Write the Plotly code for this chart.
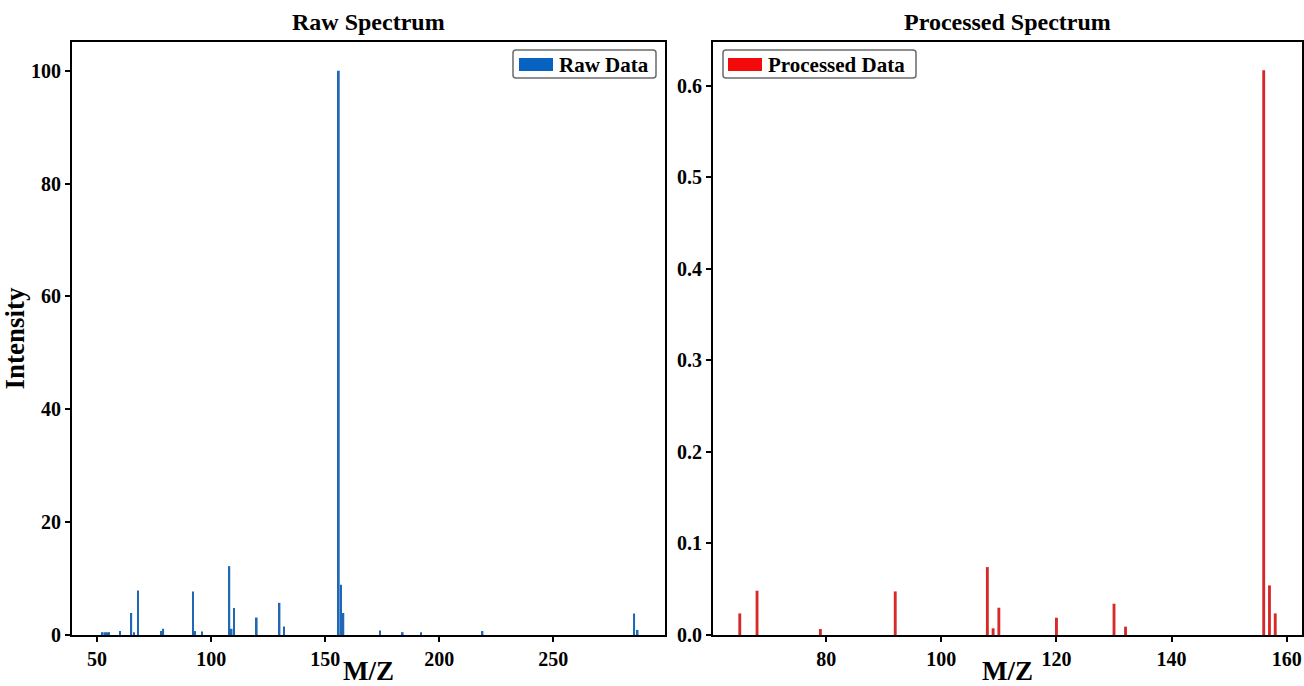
import plotly.graph_objects as go
from plotly.subplots import make_subplots

# ---- data ----
raw_mz = [52.5, 53.5, 54.4, 55.3, 60, 65, 66.2, 68, 78, 79, 92, 93, 96,
          108, 109, 110, 120, 130, 132, 156, 157, 158, 174, 184, 192, 219, 285.5, 287]
raw_int = [0.5, 0.5, 0.5, 0.5, 0.7, 3.9, 0.5, 7.9, 0.7, 1.1, 7.7, 0.7, 0.6,
           12.2, 1.1, 4.8, 3.1, 5.7, 1.5, 100, 8.9, 3.9, 0.8, 0.5, 0.5, 0.7, 3.8, 0.9]
proc_mz = [65, 68, 79, 92, 108, 109, 110, 120, 130, 132, 156, 157, 158]
proc_int = [0.0236, 0.0484, 0.0065, 0.0476, 0.0742, 0.0073, 0.0298, 0.0189,
            0.0342, 0.0091, 0.617, 0.0542, 0.0236]
raw_xticks = [50, 100, 150, 200, 250]
raw_yticks = [0, 20, 40, 60, 80, 100]
proc_xticks = [80, 100, 120, 140, 160]
proc_yticks = [0.0, 0.1, 0.2, 0.3, 0.4, 0.5, 0.6]

W, H = 1304, 686
# plot area in pixel coordinates (from reference)
L, R, T, B = 72, 1302, 42, 635
ML, MR, MT, MB = L, W - R, T, H - B
PW = R - L
PH = B - T

def px(x):
    return (x - L) / PW

def py(y):
    return (B - y) / PH

FONT = "Liberation Serif"
BLUE_BAR, BLUE_LEG = "#1f68b5", "#0862c2"
RED_BAR, RED_LEG = "#d62a2a", "#f40a0a"

fig = make_subplots(rows=1, cols=2)
fig.add_trace(go.Bar(x=raw_mz, y=raw_int, width=0.75, marker=dict(color=BLUE_BAR, line=dict(width=0)),
                     name="Raw Data", showlegend=False), row=1, col=1)
fig.add_trace(go.Bar(x=proc_mz, y=proc_int, width=0.5, marker=dict(color=RED_BAR, line=dict(width=0)),
                     name="Processed Data", showlegend=False), row=1, col=2)

axcommon = dict(showline=True, linecolor="black", linewidth=2, mirror=True,
                ticks="outside", ticklen=5, tickwidth=2, tickcolor="black",
                showgrid=False, zeroline=False, automargin=False,
                tickfont=dict(family=FONT, size=20, color="black", weight="bold"))
labfont = dict(family=FONT, size=27, color="black")

fig.update_xaxes(domain=[0, px(665)], range=[39, 299], tickvals=raw_xticks,
                 title=dict(text="<b>M/Z</b>", font=labfont, standoff=0),
                 **axcommon, row=1, col=1)
fig.update_xaxes(domain=[px(713), 1], range=[60.35, 162.65], tickvals=proc_xticks,
                 title=dict(text="<b>M/Z</b>", font=labfont, standoff=0),
                 **axcommon, row=1, col=2)
fig.update_yaxes(range=[0, 105.1], tickvals=raw_yticks,
                 title=dict(text="<b>Intensity</b>", font=labfont, standoff=4),
                 **axcommon, row=1, col=1)
fig.update_yaxes(range=[0, 0.6479], tickvals=proc_yticks, tickformat=".1f",
                 **axcommon, row=1, col=2)

# titles
for text, cx in [("Raw Spectrum", (72 + 665) / 2), ("Processed Spectrum", (713 + 1302) / 2)]:
    fig.add_annotation(text=f"<b>{text}</b>", x=px(cx), y=py(22), xref="paper", yref="paper",
                       showarrow=False, xanchor="center", yanchor="middle",
                       font=dict(family=FONT, size=24, color="black"))

# legends (box, patch, label)
def rounded_box(x0, y0, x1, y1, r=3):
    X0, X1 = px(x0), px(x1)
    Y0, Y1 = py(y1), py(y0)
    rx, ry = r / PW, r / PH
    return (f"M {X0+rx},{Y0} L {X1-rx},{Y0} Q {X1},{Y0} {X1},{Y0+ry} "
            f"L {X1},{Y1-ry} Q {X1},{Y1} {X1-rx},{Y1} L {X0+rx},{Y1} "
            f"Q {X0},{Y1} {X0},{Y1-ry} L {X0},{Y0+ry} Q {X0},{Y0} {X0+rx},{Y0} Z")

legends = [
    dict(box=(513, 50, 656, 78), patch=(519, 58, 553, 71), tx=557, label="Raw Data", color=BLUE_LEG),
    dict(box=(723, 50, 916, 78), patch=(728, 58, 762, 71), tx=766, label="Processed Data", color=RED_LEG),
]
for lg in legends:
    fig.add_shape(type="path", path=rounded_box(*lg["box"]), xref="paper", yref="paper",
                  line=dict(color="#6a6a6a", width=1.5), fillcolor="rgba(255,255,255,0.85)", layer="above")
    x0, y0, x1, y1 = lg["patch"]
    fig.add_shape(type="rect", x0=px(x0), x1=px(x1), y0=py(y1), y1=py(y0), xref="paper", yref="paper",
                  line=dict(width=0), fillcolor=lg["color"], layer="above")
    fig.add_annotation(text=f"<b>{lg['label']}</b>", x=px(lg["tx"]), y=py((y0 + y1) / 2),
                       xref="paper", yref="paper", showarrow=False, xanchor="left", yanchor="middle",
                       font=dict(family=FONT, size=21, color="black"))

fig.update_layout(width=W, height=H, margin=dict(l=ML, r=MR, t=MT, b=MB),
                  plot_bgcolor="white", paper_bgcolor="white", barmode="overlay",
                  font=dict(family=FONT, color="black"))

fig.write_html("out.html", config={"displayModeBar": False},
               post_script="document.body.style.margin='0';document.body.style.overflow='hidden';")
